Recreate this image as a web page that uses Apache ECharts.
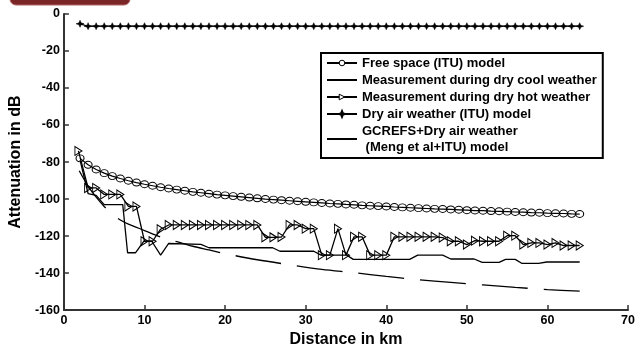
<!DOCTYPE html>
<html>
<head>
<meta charset="utf-8">
<script src="https://cdn.jsdelivr.net/npm/echarts@6/dist/echarts.min.js"></script>
<style>html,body{margin:0;padding:0;background:#fff;}#c{width:638px;height:353px;}</style>
</head>
<body>
<div id="c"></div>
<script>
// Distances (km)
const freeDist = [2,3,4,5,6,7,8,9,10,11,12,13,14,15,16,17,18,19,20,21,22,23,24,25,26,27,28,29,30,31,32,33,34,35,36,37,38,39,40,41,42,43,44,45,46,47,48,49,50,51,52,53,54,55,56,57,58,59,60,61,62,63,64];
const freeVals = [-78.0,-81.5,-84.0,-86.0,-87.6,-88.9,-90.1,-91.1,-92.0,-92.8,-93.6,-94.3,-94.9,-95.5,-96.1,-96.6,-97.1,-97.6,-98.0,-98.4,-98.8,-99.2,-99.6,-100.0,-100.3,-100.6,-100.9,-101.2,-101.5,-101.8,-102.1,-102.4,-102.6,-102.9,-103.1,-103.4,-103.6,-103.8,-104.0,-104.3,-104.5,-104.7,-104.9,-105.1,-105.3,-105.4,-105.6,-105.8,-106.0,-106.2,-106.3,-106.5,-106.6,-106.8,-107.0,-107.1,-107.3,-107.4,-107.6,-107.7,-107.8,-108.0,-108.1];

const dryDist = [2,3,4,5,6,7,8,9,10,11,12,13,14,15,16,17,18,19,20,21,22,23,24,25,26,27,28,29,30,31,32,33,34,35,36,37,38,39,40,41,42,43,44,45,46,47,48,49,50,51,52,53,54,55,56,57,58,59,60,61,62,63,64];
const dryVals = [-5.3,-6.6,-6.6,-6.6,-6.6,-6.6,-6.6,-6.6,-6.6,-6.6,-6.6,-6.6,-6.6,-6.6,-6.6,-6.6,-6.6,-6.6,-6.6,-6.6,-6.6,-6.6,-6.6,-6.6,-6.6,-6.6,-6.6,-6.6,-6.6,-6.6,-6.6,-6.6,-6.6,-6.6,-6.6,-6.6,-6.6,-6.6,-6.6,-6.6,-6.6,-6.6,-6.6,-6.6,-6.6,-6.6,-6.6,-6.6,-6.6,-6.6,-6.6,-6.6,-6.6,-6.6,-6.6,-6.6,-6.6,-6.6,-6.6,-6.6,-6.6,-6.6,-6.6];

const hotDist = [1.8,3,4,5,6,7,8,9,10,11,12,13,14,15,16,17,18,19,20,21,22,23,24,25,26,27,28,29,30,31,32,33,34,35,36,37,38,39,40,41,42,43,44,45,46,47,48,49,50,51,52,53,54,55,56,57,58,59,60,61,62,63,64];
const hotVals = [-74,-94,-94,-97.5,-97.5,-97.5,-104,-104,-122.8,-122.8,-116.3,-114,-114,-114,-114,-114,-114,-114,-114,-114,-114,-114,-114,-120.7,-120.7,-120.5,-114,-114,-116,-116,-130.3,-130.3,-116,-130.3,-120.4,-120.4,-130.3,-130.3,-130.3,-120.4,-120.4,-120.4,-120.4,-120.4,-120.4,-120.8,-122.8,-122.8,-124.6,-122.5,-122.8,-122.8,-122.8,-119.8,-119.8,-124.6,-123.7,-123.7,-124.6,-123.7,-125.1,-125.1,-125.1];

const coolDist = [2,3,4,5,7.3,7.9,8.9,9.9,10.9,12,13,17,18,25.9,26.8,31,31.9,35.1,35.9,42.9,43.9,47,48,50.9,51.9,54,54.8,56,56.8,58.9,59.9,64];
const coolVals = [-79,-97,-98,-103,-103,-129,-129,-122.8,-122.8,-130.3,-124,-124.5,-126.3,-126.3,-128.2,-128.2,-130.3,-130.3,-132.6,-132.6,-130.3,-130.3,-132.4,-132.4,-134.2,-134.2,-132.6,-132.6,-134.7,-134.7,-134,-134];

const gDist = [1.9,3,4,5,6,7,8,10,12,14,16,18,20,24,28,32,36,40,44,48,52,56,60,64];
const gVals = [-84.7,-93,-99,-104,-108.3,-111.3,-113.5,-117,-120.5,-123,-125.5,-127.5,-129.5,-132.8,-135.5,-138,-139.8,-141.8,-143.6,-145,-146.4,-147.7,-148.9,-149.8];

const xTicks = [0,10,20,30,40,50,60,70];
const yTicks = [-160,-140,-120,-100,-80,-60,-40,-20,0];

const names = ['Free space (ITU) model','Measurement during dry cool weather','Measurement during dry hot weather','Dry air weather (ITU) model','GCREFS+Dry air weather\n (Meng et al+ITU) model'];

function pairs(xs, ys){ return xs.map((x,i)=>[x, ys[i]]); }

const FONT = 'Liberation Sans, Arial, sans-serif';
const triPath = 'path://M0,0 L10,5 L0,10 Z';
const starPath = 'path://M5,0 L6.4,3.6 L10,5 L6.4,6.4 L5,10 L3.6,6.4 L0,5 L3.6,3.6 Z';

const chart = echarts.init(document.getElementById('c'), null, {renderer:'canvas'});
chart.setOption({
  animation:false,
  backgroundColor:'#fff',
  graphic:[{type:'rect', shape:{x:10,y:-10,width:120,height:15,r:6}, style:{fill:'#7a2626', stroke:'#b06060', lineWidth:1}}],
  grid:{left:61,right:8,top:14,bottom:35},
  xAxis:{type:'value',min:0,max:70,interval:10,
    name:'Distance in km',nameLocation:'middle',nameGap:17,
    nameTextStyle:{fontFamily:FONT,fontSize:16,fontWeight:'bold',color:'#000',verticalAlign:'top'},
    axisLine:{show:true,onZero:false,lineStyle:{color:'#333',width:2}},
    axisTick:{show:true,inside:true,length:5,lineStyle:{color:'#333',width:1.5}},
    axisLabel:{fontFamily:FONT,fontSize:12.5,fontWeight:'bold',color:'#000',margin:4},
    splitLine:{show:false}},
  yAxis:{type:'value',min:-160,max:0,interval:20,
    name:'Attenuation in dB',nameLocation:'middle',nameGap:36,nameRotate:90,
    nameTextStyle:{fontFamily:FONT,fontSize:16,fontWeight:'bold',color:'#000'},
    axisLine:{show:true,onZero:false,lineStyle:{color:'#333',width:2}},
    axisTick:{show:true,inside:true,length:5,lineStyle:{color:'#333',width:1.5}},
    axisLabel:{fontFamily:FONT,fontSize:12.5,fontWeight:'bold',color:'#000',margin:4},
    splitLine:{show:false}},
  legend:{orient:'vertical',left:321,top:53,
    padding:[2,6,3,5],itemGap:1,itemWidth:30,itemHeight:7,
    borderColor:'#000',borderWidth:2,backgroundColor:'#fff',
    data:[
      {name:names[0], itemStyle:{color:'#fff',borderColor:'#000',borderWidth:1}},
      {name:names[1], itemStyle:{opacity:0}},
      {name:names[2], itemStyle:{color:'#fff',borderColor:'#000',borderWidth:1}},
      {name:names[3], itemStyle:{color:'#000'}},
      {name:names[4], itemStyle:{opacity:0}}
    ],
    textStyle:{fontFamily:FONT,fontSize:13,fontWeight:'bold',color:'#000',lineHeight:16}},
  series:[
    {name:names[0],type:'line',data:pairs(freeDist,freeVals),symbol:'circle',symbolSize:[8,7],
      lineStyle:{color:'#000',width:1.2},itemStyle:{color:'rgba(255,255,255,0)',borderColor:'#000',borderWidth:1},z:3},
    {name:names[1],type:'line',data:pairs(coolDist,coolVals),symbol:'none',
      lineStyle:{color:'#000',width:1.3},itemStyle:{color:'#000'},z:2},
    {name:names[2],type:'line',data:pairs(hotDist,hotVals),symbol:triPath,symbolSize:[7,9],
      lineStyle:{color:'#000',width:1.3},itemStyle:{color:'rgba(255,255,255,0)',borderColor:'#000',borderWidth:1},z:4},
    {name:names[3],type:'line',data:pairs(dryDist,dryVals),symbol:starPath,symbolSize:[8,7],
      lineStyle:{color:'#000',width:1.2},itemStyle:{color:'#000',borderColor:'#000',borderWidth:0.5},z:3},
    {name:names[4],type:'line',data:pairs(gDist,gVals),symbol:'none',smooth:0.3,
      lineStyle:{color:'#000',width:1.3,type:[46,16]},itemStyle:{color:'#000'},z:2}
  ]
});
</script>
</body>
</html>
